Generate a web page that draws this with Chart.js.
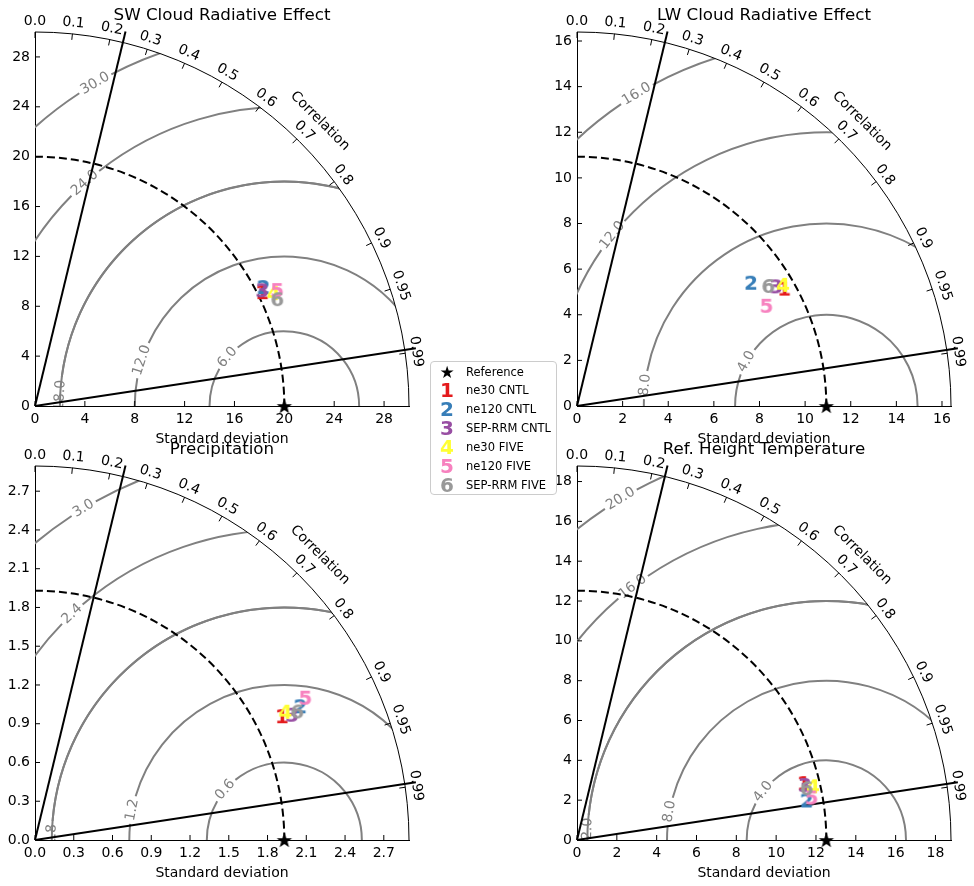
<!DOCTYPE html>
<html>
<head>
<meta charset="utf-8">
<title>Taylor diagrams</title>
<script src="https://cdn.jsdelivr.net/npm/chart.js@4.4.1/dist/chart.umd.min.js"></script>
<style>
  html, body { margin: 0; padding: 0; background: #fff; }
  #wrap { position: relative; width: 974px; height: 886px; overflow: hidden; font-family: 'DejaVu Sans', sans-serif; }
  #wrap canvas { position: absolute; left: 0; top: 0; }
  #legend { position: absolute; left: 430px; top: 361px; width: 127px; height: 134px; box-sizing: border-box;
            border: 1px solid #ccc; border-radius: 4px; background: #fff; z-index: 5; }
  .row { position: absolute; left: 0; width: 125px; height: 19px; }
  .mk { position: absolute; left: 5px; top: 0; width: 22px; text-align: center; line-height: 19px;
        font-weight: bold; font-size: 20px; }
  .lb { position: absolute; left: 35px; top: 0; line-height: 19px; font-size: 11.5px; white-space: nowrap; color: #000; }
</style>
</head>
<body>
<div id="wrap">
  <canvas id="c1" width="974" height="886"></canvas>
  <canvas id="c2" width="974" height="886"></canvas>
  <canvas id="c3" width="974" height="886"></canvas>
  <canvas id="c4" width="974" height="886"></canvas>
  <div id="legend"></div>
</div>
<script>
// ── data ──
const MODELS = ['ne30 CNTL', 'ne120 CNTL', 'SEP-RRM CNTL', 'ne30 FIVE', 'ne120 FIVE', 'SEP-RRM FIVE'];
const MODEL_COLORS = ['#e41a1c', '#377eb8', '#984ea3', '#ffff33', '#f781bf', '#999999'];
const CORR_TICKS = [0.0, 0.1, 0.2, 0.3, 0.4, 0.5, 0.6, 0.7, 0.8, 0.9, 0.95, 0.99];
const LINE_CORR = [0.235, 0.9887];

const SW_REF = 20.0;
const SW_STD = [20.38, 20.66, 20.46, 21.18, 21.54, 21.24];
const SW_CORR = [0.894, 0.887, 0.891, 0.904, 0.902, 0.915];
const SW_RMS = [6, 12, 18, 24, 30];
const SW_TICKS = [0, 4, 8, 12, 16, 20, 24, 28];

const LW_REF = 10.93;
const LW_STD = [10.44, 9.35, 10.18, 10.48, 9.40, 9.90];
const LW_CORR = [0.870, 0.816, 0.857, 0.862, 0.884, 0.847];
const LW_RMS = [4, 8, 12, 16];
const LW_TICKS = [0, 2, 4, 6, 8, 10, 12, 14, 16];

const PR_REF = 1.93;
const PR_STD = [2.138, 2.300, 2.214, 2.178, 2.365, 2.261];
const PR_CORR = [0.894, 0.893, 0.899, 0.890, 0.885, 0.898];
const PR_RMS = [0.6, 1.2, 1.8, 2.4, 3.0];
const PR_TICKS = [0, 0.3, 0.6, 0.9, 1.2, 1.5, 1.8, 2.1, 2.4, 2.7];

const TS_REF = 12.52;
const TS_STD = [11.74, 11.70, 11.77, 12.16, 11.97, 11.82];
const TS_CORR = [0.970, 0.9855, 0.972, 0.975, 0.984, 0.9755];
const TS_RMS = [4, 8, 12, 16, 20];
const TS_TICKS = [0, 2, 4, 6, 8, 10, 12, 14, 16, 18];

// ── layout / style ──
const FONT = "'DejaVu Sans', sans-serif";
const GRAY = '#808080';

const PANELS = [
  { id: 'c1', title: 'SW Cloud Radiative Effect', ref: SW_REF, std: SW_STD, corr: SW_CORR, rms: SW_RMS, ticks: SW_TICKS,
    dec: 0, left: 35, right: 409, top: 32, bottom: 406, labelAng: [139.4, 162.2, 177.3, 131.8, 120.4] },
  { id: 'c2', title: 'LW Cloud Radiative Effect', ref: LW_REF, std: LW_STD, corr: LW_CORR, rms: LW_RMS, ticks: LW_TICKS,
    dec: 0, left: 577, right: 951, top: 32, bottom: 406, labelAng: [150.9, 173.4, 141.4, 121.3] },
  { id: 'c3', title: 'Precipitation', ref: PR_REF, std: PR_STD, corr: PR_CORR, rms: PR_RMS, ticks: PR_TICKS,
    dec: 1, left: 35, right: 409, top: 466, bottom: 840, labelAng: [139.6, 168.8, 178.8, 133.2, 121.2] },
  { id: 'c4', title: 'Ref. Height Temperature', ref: TS_REF, std: TS_STD, corr: TS_CORR, rms: TS_RMS, ticks: TS_TICKS,
    dec: 0, left: 577, right: 951, top: 466, bottom: 840, labelAng: [142.5, 169.7, 178.4, 127.4, 121.1] }
];

function corrLabel(v) {
  const s = String(v);
  return s.indexOf('.') >= 0 ? s : v.toFixed(1);
}

// ── marker images ──
function digitImage(n, color) {
  const c = document.createElement('canvas');
  c.width = 24; c.height = 24;
  const g = c.getContext('2d');
  g.font = 'bold 20px ' + FONT;
  g.fillStyle = color;
  g.textAlign = 'center';
  g.textBaseline = 'alphabetic';
  const m = g.measureText(String(n));
  const h = m.actualBoundingBoxAscent + m.actualBoundingBoxDescent;
  g.fillText(String(n), 12, 12 + h / 2 - m.actualBoundingBoxDescent);
  return c;
}

function starImage() {
  const c = document.createElement('canvas');
  c.width = 18; c.height = 18;
  const g = c.getContext('2d');
  g.fillStyle = '#000';
  g.beginPath();
  for (let i = 0; i < 10; i++) {
    const r = i % 2 === 0 ? 8 : 3.3;
    const a = -Math.PI / 2 + i * Math.PI / 5;
    const x = 9 + r * Math.cos(a), y = 9.8 + r * Math.sin(a);
    if (i === 0) g.moveTo(x, y); else g.lineTo(x, y);
  }
  g.closePath();
  g.fill();
  return c;
}

const DIGITS = MODEL_COLORS.map((col, i) => digitImage(i + 1, col));
const STAR = starImage();

// ── Taylor diagram furniture ──
const taylorPlugin = {
  id: 'taylor',
  beforeDatasetsDraw(chart, args, opts) {
    const p = opts.panel;
    const ctx = chart.ctx, a = chart.chartArea;
    const xs = chart.scales.x, ys = chart.scales.y;
    const ox = xs.getPixelForValue(0), oy = ys.getPixelForValue(0);
    const k = ((xs.getPixelForValue(p.max) - ox) + (oy - ys.getPixelForValue(p.max))) / (2 * p.max);
    const R = p.max * k;
    const rx = xs.getPixelForValue(p.ref);
    const labelFont = '14px ' + FONT;

    // RMS contours around the reference, clipped to the quarter disc
    ctx.save();
    ctx.beginPath();
    ctx.moveTo(ox, oy);
    ctx.arc(ox, oy, R, -Math.PI / 2, 0);
    ctx.closePath();
    ctx.clip();
    ctx.strokeStyle = GRAY;
    ctx.lineWidth = 2;
    ctx.font = labelFont;
    p.rms.forEach((r, i) => {
      const rp = r * k;
      const th = p.labelAng[i] * Math.PI / 180;
      const w = ctx.measureText(r.toFixed(1)).width;
      const d = (w / 2 + 3) / rp;
      ctx.beginPath(); ctx.arc(rx, oy, rp, -Math.PI, -th - d); ctx.stroke();
      ctx.beginPath(); ctx.arc(rx, oy, rp, -th + d, 0); ctx.stroke();
    });
    ctx.restore();

    // contour labels
    ctx.save();
    ctx.beginPath();
    ctx.rect(a.left, a.top, a.right - a.left, a.bottom - a.top);
    ctx.clip();
    ctx.fillStyle = GRAY;
    ctx.font = labelFont;
    ctx.textAlign = 'center';
    ctx.textBaseline = 'middle';
    p.rms.forEach((r, i) => {
      const th = p.labelAng[i] * Math.PI / 180;
      const x = rx + r * k * Math.cos(th), y = oy - r * k * Math.sin(th);
      ctx.save();
      ctx.translate(x, y);
      ctx.rotate(-(th - Math.PI / 2));
      ctx.fillText(r.toFixed(1), 0, 0);
      ctx.restore();
    });
    ctx.restore();

    ctx.save();
    // radial lines
    ctx.strokeStyle = '#000';
    ctx.lineWidth = 2;
    LINE_CORR.forEach(c => {
      const t = Math.acos(c);
      ctx.beginPath();
      ctx.moveTo(ox, oy);
      ctx.lineTo(ox + 1.03 * R * Math.cos(t), oy - 1.03 * R * Math.sin(t));
      ctx.stroke();
    });

    // reference std arc
    ctx.setLineDash([8, 4]);
    ctx.beginPath();
    ctx.arc(ox, oy, p.ref * k, -Math.PI / 2, 0);
    ctx.stroke();
    ctx.setLineDash([]);

    // outer arc
    ctx.lineWidth = 1;
    ctx.beginPath();
    ctx.arc(ox, oy, R, -Math.PI / 2, 0);
    ctx.stroke();

    // inward axis ticks
    p.ticks.forEach(v => {
      const px = xs.getPixelForValue(v), py = ys.getPixelForValue(v);
      ctx.beginPath(); ctx.moveTo(px, oy); ctx.lineTo(px, oy - 5); ctx.stroke();
      ctx.beginPath(); ctx.moveTo(ox, py); ctx.lineTo(ox + 5, py); ctx.stroke();
    });

    // correlation ticks and labels
    ctx.fillStyle = '#000';
    ctx.font = '14px ' + FONT;
    ctx.textAlign = 'center';
    ctx.textBaseline = 'middle';
    CORR_TICKS.forEach(c => {
      const t = Math.acos(c);
      const cs = Math.cos(t), sn = Math.sin(t);
      ctx.beginPath();
      ctx.moveTo(ox + R * cs, oy - R * sn);
      ctx.lineTo(ox + (R - 6) * cs, oy - (R - 6) * sn);
      ctx.stroke();
      ctx.save();
      ctx.translate(ox + (R + 11) * cs, oy - (R + 11) * sn);
      ctx.rotate(Math.PI / 2 - t);
      ctx.fillText(corrLabel(c), 0, 0);
      ctx.restore();
    });
    ctx.save();
    ctx.translate(ox + (R + 29) * Math.cos(Math.PI / 4), oy - (R + 29) * Math.sin(Math.PI / 4));
    ctx.rotate(Math.PI / 4);
    ctx.fillText('Correlation', 0, 0);
    ctx.restore();
    ctx.restore();
  },
  afterDraw(chart, args, opts) {
    const p = opts.panel;
    const ctx = chart.ctx, a = chart.chartArea;
    const cx = (a.left + a.right) / 2;
    ctx.save();
    ctx.fillStyle = '#000';
    ctx.textAlign = 'center';
    ctx.textBaseline = 'middle';
    ctx.font = '16.7px ' + FONT;
    ctx.fillText(p.title, cx, a.top - 16.5);
    ctx.font = '14px ' + FONT;
    ctx.fillText('Standard deviation', cx, a.bottom + 33);
    ctx.restore();
  }
};

function axisOpts(p, isX) {
  return {
    type: 'linear',
    min: 0,
    max: p.max,
    afterBuildTicks: s => { s.ticks = p.ticks.map(v => ({ value: v })); },
    afterFit: s => { if (isX) s.height = 30; else s.width = 35; },
    grid: { display: false, drawTicks: false },
    border: { display: true, color: '#000', width: 1 },
    ticks: {
      padding: isX ? 5 : 5,
      color: '#000',
      autoSkip: false,
      maxRotation: 0,
      font: { size: 14, family: FONT },
      callback: v => Number(v).toFixed(p.dec)
    }
  };
}

PANELS.forEach(p => {
  p.max = 1.5 * p.ref;
  const pts = p.std.map((s, i) => ({ x: s * p.corr[i], y: s * Math.sqrt(1 - p.corr[i] * p.corr[i]) }));
  new Chart(document.getElementById(p.id), {
    type: 'scatter',
    data: {
      datasets: [
        { label: 'Reference', data: [{ x: p.ref, y: 0 }], pointStyle: STAR, pointRadius: 9, clip: false },
        { label: 'Models', data: pts, pointStyle: DIGITS, pointRadius: 10, clip: false }
      ]
    },
    options: {
      responsive: false,
      animation: false,
      events: [],
      layout: { padding: { left: p.left - 35, top: p.top, right: 974 - p.right, bottom: 886 - p.bottom - 30 } },
      scales: { x: axisOpts(p, true), y: axisOpts(p, false) },
      plugins: { legend: { display: false }, tooltip: { enabled: false }, taylor: { panel: p } }
    },
    plugins: [taylorPlugin]
  });
});

// ── legend ──
const legend = document.getElementById('legend');
const rows = [{ mk: '\u2605', color: '#000', text: 'Reference' }]
  .concat(MODELS.map((m, i) => ({ mk: String(i + 1), color: MODEL_COLORS[i], text: m })));
rows.forEach((r, i) => {
  const row = document.createElement('div');
  row.className = 'row';
  row.style.top = (0.5 + i * 18.9) + 'px';
  const mk = document.createElement('span');
  mk.className = 'mk';
  mk.textContent = r.mk;
  mk.style.color = r.color;
  if (i === 0) { mk.style.fontSize = '17px'; mk.style.fontWeight = 'normal'; }
  const lb = document.createElement('span');
  lb.className = 'lb';
  lb.textContent = r.text;
  row.appendChild(mk);
  row.appendChild(lb);
  legend.appendChild(row);
});
</script>
</body>
</html>
